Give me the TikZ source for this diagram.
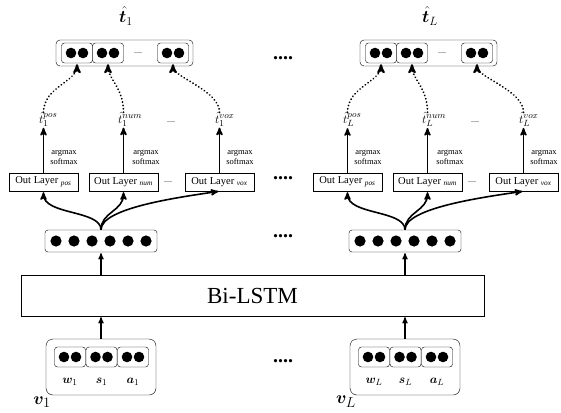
\documentclass[tikz,border=0pt]{standalone}
\usepackage{fontspec}
\setmainfont{Liberation Serif}
\usepackage{amsmath}
\usepackage{bm}
\usetikzlibrary{arrows, positioning}

\tikzset{
  vecbox/.style={draw, rounded corners=3pt, minimum width=112pt, minimum height=22pt, inner sep=0pt},
  topbox/.style={draw, rounded corners=4pt, minimum width=137pt, minimum height=26pt, inner sep=0pt},
  inbox/.style={draw, rounded corners=7pt, minimum width=110pt, minimum height=56pt, inner sep=0pt},
  cellbox/.style={draw, rounded corners=3pt, minimum width=31pt, minimum height=20pt, inner sep=0pt},
  outbox/.style={draw, minimum width=69pt, minimum height=18pt, inner sep=1pt, font=\fontsize{10.5}{12}\selectfont},
  smalltxt/.style={font=\fontsize{8.5}{10}\selectfont, align=center, inner sep=0pt},
  thindots/.style={font=\fontsize{8}{8}\selectfont, inner sep=0pt},
  bigdots/.style={font=\bfseries\fontsize{20}{20}\selectfont, inner sep=0pt},
  hatlabel/.style={anchor=base west, inner sep=0pt, font=\fontsize{13}{14}\selectfont},
  dotline/.style={->, line width=2pt, dash pattern=on 0.01pt off 3.4pt, line cap=round},
}

\newcommand{\twodots}[1]{%
  \fill ([xshift=-6pt]#1.center) circle (5.3pt);
  \fill ([xshift=6pt]#1.center) circle (5.3pt);}

\begin{document}
\begin{tikzpicture}[x=1pt, y=-1pt, >=stealth', shorten >=1pt]
  \useasboundingbox (0,0) rectangle (561,412);

  % shared recurrent layer
  \node[draw, minimum width=463pt, minimum height=41pt, inner sep=0pt,
        font=\fontsize{23}{26}\selectfont] (bilstm) at (252.5,295.5) {Bi-LSTM};

  % one column per token
  \foreach \i/\o in {1/0, L/304} {
    % input vector
    \node[inbox]   (in\i)  at (\o+101,367) {};
    \node[cellbox] (ic1\i) at (\o+70,357)  {};
    \node[cellbox] (ic2\i) at (\o+101.5,357) {};
    \node[cellbox] (ic3\i) at (\o+133,357) {};
    \twodots{ic1\i} \twodots{ic2\i} \twodots{ic3\i}
    \node[font=\fontsize{13}{14}\selectfont] (w\i) at (\o+70,382)  {$\bm{w}_\i$};
    \node[font=\fontsize{13}{14}\selectfont] (s\i) at (\o+101.5,382) {$\bm{s}_\i$};
    \node[font=\fontsize{13}{14}\selectfont] (a\i) at (\o+133,382) {$\bm{a}_\i$};
    \node[font=\fontsize{19}{19}\selectfont] (v\i) at (\o+42,402) {$\bm{v}_\i$};

    % hidden vector
    \node[vecbox] (vec\i) at (\o+101,241) {};
    \foreach \k in {-45,-27,-9,9,27,45}
      \fill (\o+101+\k,241) circle (5.6pt);

    % output layers
    \node[outbox] (opos\i) at (\o+43.5,182)  {Out Layer \textsubscript{\textit{pos}}};
    \node[outbox] (onum\i) at (\o+123.5,182) {Out Layer \textsubscript{\textit{num}}};
    \node[thindots] (odots\i) at (\o+168,182) {....};
    \node[outbox] (ovox\i) at (\o+219.5,182) {Out Layer \textsubscript{\textit{vox}}};

    \node[smalltxt] (am1\i) at (\o+64,157)  {argmax\\softmax};
    \node[smalltxt] (am2\i) at (\o+146,157) {argmax\\softmax};
    \node[smalltxt] (am3\i) at (\o+240,157) {argmax\\softmax};

    % predicted tags
    \node[hatlabel] (lpos\i) at (\o+39,123)  {$\hat{t}_\i^{pos}$};
    \node[hatlabel] (lnum\i) at (\o+118,123) {$\hat{t}_\i^{num}$};
    \node[thindots] (ldots\i) at (\o+171,122) {....};
    \node[hatlabel] (lvox\i) at (\o+215,123) {$\hat{t}_\i^{vox}$};

    % joint tag vector
    \node[topbox]  (top\i) at (\o+124.5,53) {};
    \node[cellbox] (tc1\i) at (\o+77,53)  {};
    \node[cellbox] (tc2\i) at (\o+108,53) {};
    \node[thindots] (tdots\i) at (\o+138,53) {....};
    \node[cellbox] (tc3\i) at (\o+173,53) {};
    \twodots{tc1\i} \twodots{tc2\i} \twodots{tc3\i}
    \node[font=\fontsize{18}{18}\selectfont] (that\i) at (\o+126,16) {$\hat{\bm{t}}_\i$};

    % links
    \draw[->, line width=1.2pt] (in\i) -- (in\i |- bilstm.south);
    \draw[->, line width=1.2pt] (vec\i |- bilstm.north) -- (vec\i);
    \draw[->, line width=1.6pt] (vec\i.north) .. controls +(0,-20) and +(0,24) .. (opos\i.south);
    \draw[->, line width=1.6pt] (vec\i.north) .. controls +(0,-18) and +(0,20) .. (onum\i.south);
    \draw[->, line width=1.6pt] (vec\i.north) .. controls +(0,-22) and +(-40,6) .. (ovox\i.south);
    \draw[->, line width=1.6pt] (opos\i) -- (opos\i |- lpos\i.south);
    \draw[->, line width=1.6pt] (onum\i) -- (onum\i |- lnum\i.south);
    \draw[->, line width=1.6pt] (ovox\i) -- (ovox\i |- lvox\i.south);
    \draw[dotline] (opos\i |- lpos\i.north) .. controls +(0,-25) and +(0,18) .. (tc1\i.south);
    \draw[dotline] (onum\i |- lnum\i.north) .. controls +(0,-25) and +(0,16) .. (tc2\i.south);
    \draw[dotline] (ovox\i |- lvox\i.north) .. controls +(0,-22) and +(0,14) .. (tc3\i.south);
  }

  % gaps between the two columns
  \node[bigdots] (gap1) at (283,58)  {....};
  \node[bigdots] (gap2) at (283,178) {....};
  \node[bigdots] (gap3) at (283,236) {....};
  \node[bigdots] (gap4) at (283,361) {....};
\end{tikzpicture}
\end{document}
